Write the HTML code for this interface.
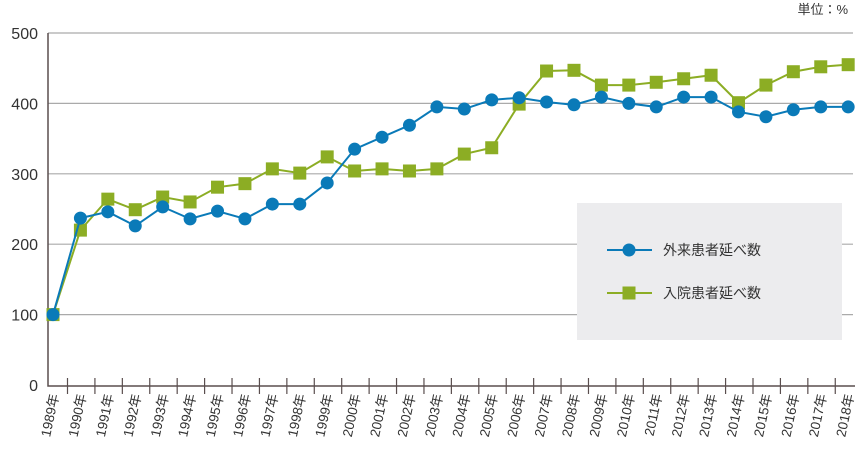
<!DOCTYPE html>
<html><head><meta charset="utf-8"><style>
body{margin:0;background:#fff}
svg{display:block;font-family:"Liberation Sans","Noto Sans CJK JP",sans-serif}
</style></head><body>
<svg id="chart" width="860" height="460"></svg>
<script>
const years=["1989年","1990年","1991年","1992年","1993年","1994年","1995年","1996年","1997年","1998年","1999年","2000年","2001年","2002年","2003年","2004年","2005年","2006年","2007年","2008年","2009年","2010年","2011年","2012年","2013年","2014年","2015年","2016年","2017年","2018年"];
const outpatient=[100,237,246,226,253,236,247,236,257,257,287,335,352,369,395,392,405,408,402,398,409,400,395,409,409,388,381,391,395,395];
const inpatient=[100,220,264,249,267,260,281,286,307,301,324,304,307,304,307,328,337,399,446,447,426,426,430,435,440,401,426,445,452,455];
const yTicks=[0,100,200,300,400,500];
const NS="http://www.w3.org/2000/svg";
const svg=document.getElementById('chart');
const X=i=>53+i*27.42;
const Y=v=>385-v*0.704;
function mk(t,a,p){const e=document.createElementNS(NS,t);for(const k in a)e.setAttribute(k,a[k]);(p||svg).appendChild(e);return e;}
// unit
let u=mk('text',{x:848,y:14,'text-anchor':'end','font-size':13,fill:'#333'});u.textContent='単位：%';


yTicks.forEach(v=>{
  if(v>0){let g=mk('line',{x1:48,x2:853,y1:Y(v),y2:Y(v),stroke:'#aaa','stroke-width':1.2});
  
  }
  let t=mk('text',{x:38,y:Y(v)+6,'text-anchor':'end','font-size':16,fill:'#333'});t.textContent=v;
  
  
});
let ax=mk('path',{d:'M48 33V386H855',fill:'none',stroke:'#5a4e4e','stroke-width':1.5});


years.forEach((y,i)=>{
  let tk=mk('line',{x1:X(i)+14.5,x2:X(i)+14.5,y1:378,y2:394,stroke:'#5a4e4e','stroke-width':1.2});
  
  
  let t=mk('text',{transform:`translate(${X(i)+6},395) rotate(-78)`,'text-anchor':'end','font-size':13.5,fill:'#333'});
  t.textContent=y;
  
  
});
function series(data,color,shape,name){
  let p=mk('polyline',{points:data.map((v,i)=>X(i)+','+Y(v)).join(' '),fill:'none',stroke:color,'stroke-width':2});
  
  
  data.forEach((v,i)=>{
    let m=shape==='c'?mk('circle',{cx:X(i),cy:Y(v),r:6.5,fill:color}):mk('rect',{x:X(i)-6.5,y:Y(v)-6.5,width:13,height:13,fill:color});
    
    
  });
}
series(inpatient,'#8cad24','s','inpatient');
series(outpatient,'#0a7ab8','c','outpatient');
let lg=mk('rect',{x:577,y:203,width:265,height:137,fill:'#ececee'});


[['外来患者延べ数','#0a7ab8','c',250],['入院患者延べ数','#8cad24','s',293]].forEach(([n,c,s,y])=>{
  mk('line',{x1:607,x2:652,y1:y,y2:y,stroke:c,'stroke-width':2});
  if(s==='c')mk('circle',{cx:629,cy:y,r:6.5,fill:c});else mk('rect',{x:622.5,y:y-6.5,width:13,height:13,fill:c});
  let t=mk('text',{x:663,y:y+5,'font-size':14,fill:'#333'});t.textContent=n;
  
  
});
</script>
</body></html>
